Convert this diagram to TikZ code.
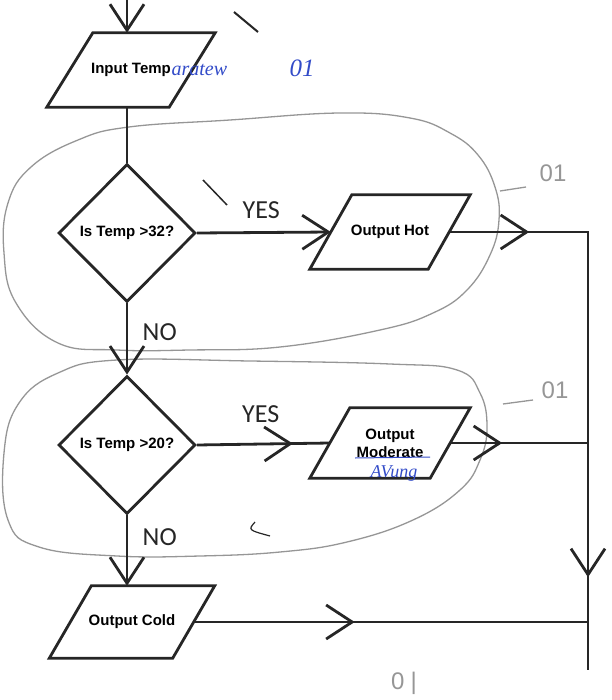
\documentclass[tikz,border=0pt]{standalone}
\usepackage{fontspec}
\setmainfont{Liberation Sans}
\newfontfamily\labelfont{Carlito}
\newfontfamily\handfont{Liberation Serif}
\usepackage{tikz}
\usetikzlibrary{shapes.geometric}
\usetikzlibrary{arrows.meta,decorations.markings}
\definecolor{ink}{RGB}{38,38,38}
\definecolor{pencil}{RGB}{150,150,150}
\definecolor{bluepen}{RGB}{50,75,200}

\begin{document}
\begin{tikzpicture}[x=1pt,y=-1pt,
    chev/.tip={Straight Barb[length=26pt,width=34pt,line width=2.8pt]},
    flow/.style={draw=ink,line width=2.8pt},
    midtip/.style={postaction={decorate,decoration={markings,mark=at position #1 with {\arrow{chev}}}}},
    io node/.style={rectangle,inner sep=0pt,align=center,font=\bfseries\fontsize{15}{18}\selectfont,
    append after command={\pgfextra{\draw[ink,line width=2.8pt]
        ([xshift=-#1]\tikzlastnode.south west) -- ([xshift=#1]\tikzlastnode.north west)
        -- ([xshift=#1]\tikzlastnode.north east) -- ([xshift=-#1]\tikzlastnode.south east) -- cycle;}}},
    io node/.default=21pt,
    decision node/.style={diamond,draw=ink,line width=2.8pt,inner sep=0pt,
    minimum width=137pt,minimum height=138pt,font=\bfseries\fontsize{15}{18}\selectfont},
    answer/.style={font=\labelfont\fontsize{26}{28}\selectfont,text=ink},
    loop line/.style={draw=pencil,line width=1.3pt},
    pencil note/.style={text=pencil,font=\fontsize{24}{26}\selectfont},
    pen note/.style={text=bluepen,font=\handfont\itshape\fontsize{20}{22}\selectfont}]

    \useasboundingbox (0,0) rectangle (611,700);

    \draw[loop line] plot[smooth cycle,tension=0.7] coordinates {(129,127) (230,120) (340,113) (410,118) (450,133)
        (478,155) (495,187) (499,220) (490,255) (467,290) (433,313) (380,330) (280,347) (190,350) (117,350)
        (58,343) (16,303) (4,253) (8,203) (31,167) (78,140)};
    \draw[loop line] plot[smooth cycle,tension=0.7] coordinates {(117,360) (250,361) (390,364) (457,370)
        (480,393) (487,427) (480,460) (460,490) (413,520) (347,542) (280,552) (200,556) (117,556)
        (39,547) (8,520) (4,453) (19,403) (58,373)};

    \node[io node=23pt,minimum width=122pt,minimum height=74pt] (InputTemp) at (131,70) {Input Temp};

    \node[decision node] (IsHot) at (127,233) {Is Temp >32?};
    \node[io node,minimum width=118pt,minimum height=74pt] (OutputHot) at (390,232) {Output Hot};

    \node[decision node] (IsMild) at (127,445) {Is Temp >20?};
    \node[io node=20pt,minimum width=120pt,minimum height=70pt] (OutputModerate) at (390,443) {Output\\Moderate};

    \node[io node,minimum width=123pt,minimum height=72pt] (OutputCold) at (132,622) {Output Cold};

    \coordinate (Start) at (127,0);
    \coordinate (Corner) at (588,232);
    \coordinate (End) at (588,670);

    \draw[flow,-chev] (Start) -- (Start |- InputTemp.north);
    \draw[flow] (IsHot.north |- InputTemp.south) -- (IsHot.north);
    \draw[flow,-chev] (IsHot.east) -- node[answer,above=9pt,pos=0.48] (YesHot) {YES} (OutputHot.west);
    \draw[flow,-chev] (IsHot.south) -- node[answer,right=11pt,pos=0.41] (NoHot) {NO} (IsMild.north);
    \draw[flow,midtip=96pt] (IsMild.east) -- node[answer,above=17pt,pos=0.48] (YesMild) {YES} (OutputModerate.west);
    \draw[flow,-chev] (IsMild.south) -- node[answer,right=11pt,pos=0.31] (NoMild) {NO} (IsMild.south |- OutputCold.north);

    \draw[flow,midtip=80pt,midtip=484pt] (OutputHot.east) -- (Corner) -- (End);
    \draw[flow,midtip=52pt] (OutputModerate.east) -- (OutputModerate.east -| Corner);
    \draw[flow,midtip=161pt] (OutputCold.east) -- (OutputCold.east -| Corner);

    \node[pen note,anchor=west] (TempNote) at (168,70) {aratew};
    \node[pen note,font=\handfont\itshape\fontsize{25}{27}\selectfont] (TempMark) at (302,68) {01};
    \node[pen note,font=\handfont\itshape\fontsize{18}{20}\selectfont] (AvgNote) at (394,473) {AVung};
    \draw[bluepen,line width=1pt] (355,458) -- (430,457);

    \draw[pencil,line width=1.3pt] (500,191) -- (526,187);
    \node[pencil note] (HotMark) at (553,173) {01};
    \draw[pencil,line width=1.3pt] (503,404) -- (533,400);
    \node[pencil note] (MildMark) at (555,390) {01};
    \node[pencil note] (ColdMark) at (404,683) {0\hspace{6pt}|};

    \draw[ink,line width=2pt] (234,12) -- (258,32);
    \draw[ink,line width=1.5pt] (203,180) -- (227,205);
    \draw[ink,line width=1.2pt] (255,522) .. controls (248,530) .. (270,536);
  \end{tikzpicture}
\end{document}
